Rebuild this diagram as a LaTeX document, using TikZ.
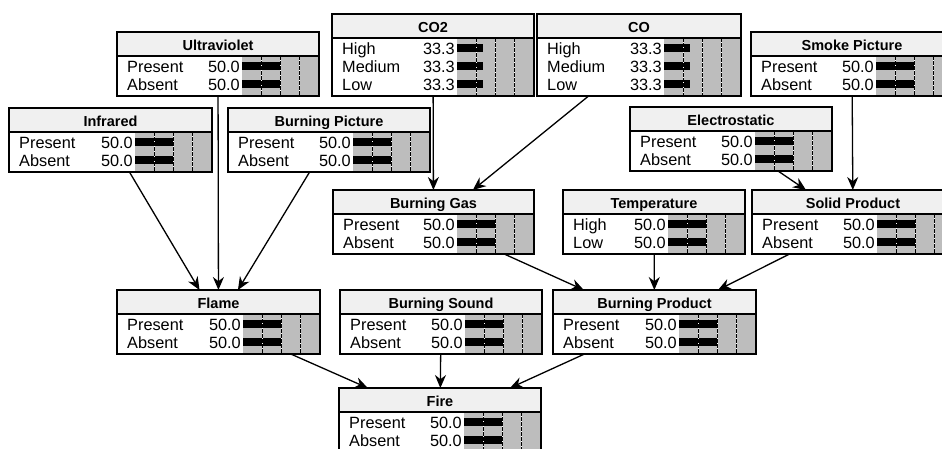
\documentclass[tikz,border=0pt]{standalone}
\usepackage{fontspec}
\setmainfont{Liberation Sans}
\usetikzlibrary{
    arrows.meta,
    positioning,
    calc
}
\tikzset{
    % --- Belief node frame (lines drawn after the contents) ---
    net box/.style = {
        rectangle, inner sep=0pt, outer sep=0pt, anchor=north west
    },
    % --- Frame and title separator ---
    frame line/.style = {
        draw=black, line width=1.4pt
    },
    % --- Light title band ---
    title band/.style = {
        fill=black!6
    },
    % --- Node title (bold, centred) ---
    node title/.style = {
        font=\bfseries\fontsize{14.5}{16}\selectfont,
        anchor=base, inner sep=0pt
    },
    % --- State name ---
    state label/.style = {
        font=\fontsize{16.3}{18}\selectfont,
        anchor=base west, inner sep=0pt
    },
    % --- Belief value in percent ---
    state value/.style = {
        font=\fontsize{16.3}{18}\selectfont,
        anchor=base east, inner sep=0pt
    },
    % --- Grey belief bar area ---
    bar area/.style = {
        fill=black!26
    },
    % --- Black belief bar ---
    belief bar/.style = {
        fill=black
    },
    % --- Quarter marks in the bar area ---
    quarter white/.style = {
        draw=white, line width=1pt
    },
    quarter line/.style = {
        draw=black, line width=0.9pt, dash pattern=on 3.5pt off 1.5pt
    },
    % --- Causal link ---
    link/.style = {
        -{Stealth[length=13pt, width=11pt]}, line width=1.3pt
    }
}

% #1 name, #2 top left corner, #3 width, #4 number of states,
% #5 title, #6 states as name/value/fraction
\newcommand{\bayesnode}[6]{%
    \node[net box, minimum width=#3pt, minimum height={(28+18*#4)*1pt}] (#1) at (#2) {};
    \fill[title band] (#1.north west) rectangle ($(#1.north east)+(0,24)$);
    \fill[bar area] ($(#1.north west)+(#3-77,24)$) rectangle (#1.south east);
    \foreach \s/\v/\f [count=\i from 0] in {#6} {
        \node[state label] at ($(#1.north west)+(10,40+18*\i)$) {\s};
        \node[state value] at ($(#1.north west)+(#3-79,40+18*\i)$) {\v};
        \fill[belief bar] ($(#1.north west)+(#3-77,30+18*\i)$) rectangle ++(77*\f,8);
    }
    \foreach \q in {0.25,0.5,0.75} {
        \draw[quarter white] ($(#1.north west)+(#3-77+77*\q,24)$) -- ($(#1.south west)+(#3-77+77*\q,0)$);
        \draw[quarter line] ($(#1.north west)+(#3-77+77*\q,24)$) -- ($(#1.south west)+(#3-77+77*\q,0)$);
    }
    \node[node title] at ($(#1.north)+(0,18)$) {#5};
    \draw[frame line] (#1.north west) rectangle (#1.south east);
    \draw[frame line] ($(#1.north west)+(0,24)$) -- ($(#1.north east)+(0,24)$);
}

\begin{document}
\begin{tikzpicture}[x=1pt, y=-1pt]

\useasboundingbox (0,0) rectangle (942,448);
\clip (0,0) rectangle (942,448);

% ---------------------------------------------------------
% Sensor nodes, top rows
% ---------------------------------------------------------
\bayesnode{ultra}{117,32}{202}{2}{Ultraviolet}{Present/50.0/0.5, Absent/50.0/0.5}
\bayesnode{co2}{332,14}{202}{3}{CO2}{High/33.3/0.333, Medium/33.3/0.333, Low/33.3/0.333}
\bayesnode{co}{537,14}{204}{3}{CO}{High/33.3/0.333, Medium/33.3/0.333, Low/33.3/0.333}
\bayesnode{smoke}{751,32}{202}{2}{Smoke Picture}{Present/50.0/0.5, Absent/50.0/0.5}

\bayesnode{infra}{9,108}{203}{2}{Infrared}{Present/50.0/0.5, Absent/50.0/0.5}
\bayesnode{bpic}{228,108}{202}{2}{Burning Picture}{Present/50.0/0.5, Absent/50.0/0.5}
\bayesnode{elec}{630,107}{202}{2}{Electrostatic}{Present/50.0/0.5, Absent/50.0/0.5}

% ---------------------------------------------------------
% Intermediate nodes
% ---------------------------------------------------------
\bayesnode{bgas}{333,190}{201}{2}{Burning Gas}{Present/50.0/0.5, Absent/50.0/0.5}
\bayesnode{temp}{563,190}{182}{2}{Temperature}{High/50.0/0.5, Low/50.0/0.5}
\bayesnode{solid}{752,190}{202}{2}{Solid Product}{Present/50.0/0.5, Absent/50.0/0.5}

\bayesnode{flame}{117,290}{203}{2}{Flame}{Present/50.0/0.5, Absent/50.0/0.5}
\bayesnode{bsound}{340,290}{202}{2}{Burning Sound}{Present/50.0/0.5, Absent/50.0/0.5}
\bayesnode{bprod}{553,290}{203}{2}{Burning Product}{Present/50.0/0.5, Absent/50.0/0.5}

% ---------------------------------------------------------
% Query node
% ---------------------------------------------------------
\bayesnode{fire}{339,388}{202}{2}{Fire}{Present/50.0/0.5, Absent/50.0/0.5}

% ---------------------------------------------------------
% Links
% ---------------------------------------------------------
\draw[link] (ultra) -- (flame);
\draw[link] (infra) -- (flame);
\draw[link] (bpic) -- (flame);
\draw[link] (co2) -- (bgas);
\draw[link] (co) -- (bgas);
\draw[link] (smoke) -- (solid);
\draw[link] (elec) -- (solid);
\draw[link] (bgas) -- (bprod);
\draw[link] (temp) -- (bprod);
\draw[link] (solid) -- (bprod);
\draw[link] (flame) -- (fire);
\draw[link] (bsound) -- (fire);
\draw[link] (bprod) -- (fire);

\end{tikzpicture}
\end{document}
